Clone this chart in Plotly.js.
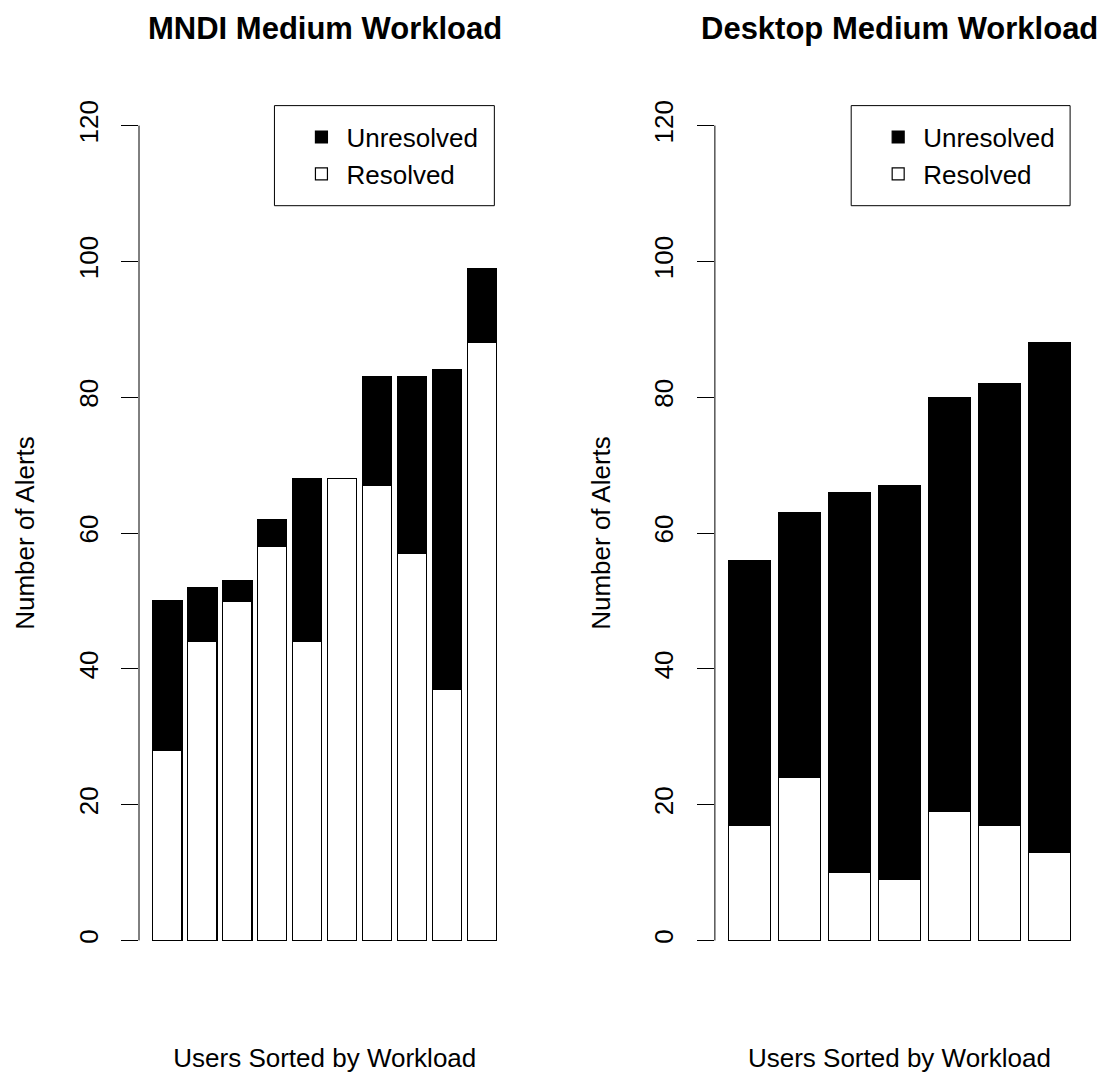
<!DOCTYPE html>
<html>
<head>
<meta charset="utf-8">
<script src="https://cdn.plot.ly/plotly-3.0.1.min.js"></script>
<style>html,body{margin:0;padding:0;background:#fff;}#chart{width:1114px;height:1076px;}</style>
</head>
<body>
<div id="chart"></div>
<script>
// ---- data ----
const usersMNDI = [1, 2, 3, 4, 5, 6, 7, 8, 9, 10];
const resolvedMNDI = [28, 44, 50, 58, 44, 68, 67, 57, 37, 88];
const unresolvedMNDI = [22, 8, 3, 4, 24, 0, 16, 26, 47, 11];

const usersDesktop = [1, 2, 3, 4, 5, 6, 7];
const resolvedDesktop = [17, 24, 10, 9, 19, 17, 13];
const unresolvedDesktop = [39, 39, 56, 58, 61, 65, 75];

const seriesNames = ["Resolved", "Unresolved"];
const panelTitles = ["MNDI Medium Workload", "Desktop Medium Workload"];
const xTitle = "Users Sorted by Workload";
const yTitle = "Number of Alerts";
const yTicks = [0, 20, 40, 60, 80, 100, 120];

const FONT = "Liberation Sans, Arial, Helvetica, sans-serif";
const lineStyle = {color: "#000", width: 1.2};

function bar(x, y, name, fill, xa, ya, leg) {
  return {
    type: "bar", x: x, y: y, name: name, xaxis: xa, yaxis: ya, legend: leg,
    marker: {color: fill, line: lineStyle}, hoverinfo: "x+y+name"
  };
}

const data = [
  bar(usersMNDI, resolvedMNDI, seriesNames[0], "#ffffff", "x", "y", "legend"),
  bar(usersMNDI, unresolvedMNDI, seriesNames[1], "#000000", "x", "y", "legend"),
  bar(usersDesktop, resolvedDesktop, seriesNames[0], "#ffffff", "x2", "y2", "legend2"),
  bar(usersDesktop, unresolvedDesktop, seriesNames[1], "#000000", "x2", "y2", "legend2")
];

function yAxis(anchor) {
  return {
    anchor: anchor, domain: [0, 1], range: [-4.8, 124.8],
    tickmode: "array", tickvals: yTicks, ticktext: yTicks.map(String),
    ticks: "outside", ticklen: 17, tickwidth: 1, tickcolor: "#000",
    tickangle: -90, ticklabelstandoff: 13,
    showline: false, showgrid: false, zeroline: false,
    tickfont: {family: FONT, size: 26, color: "#000"},
    title: {text: yTitle, font: {family: FONT, size: 26, color: "#000"}, standoff: 31},
    automargin: false, fixedrange: true
  };
}
function xAxis(anchor, domain, n) {
  // bar width is 1/1.2 of the pitch; axis extended by 4% of the bar extent on each side
  const half = 0.5 / 1.2;
  const ext = 0.04 * ((n - 1) + 2 * half);
  return {
    anchor: anchor, domain: domain, range: [1 - half - ext, n + half + ext],
    showticklabels: false, ticks: "", showline: false, showgrid: false, zeroline: false,
    title: {text: xTitle, font: {family: FONT, size: 26, color: "#000"}, standoff: 75},
    automargin: false, fixedrange: true
  };
}

function legendBox(xl) {
  return {
    x: xl, xanchor: "left", y: 0.97657, yanchor: "top",
    bgcolor: "rgba(0,0,0,0)", borderwidth: 0,
    font: {family: FONT, size: 26, color: "#000"},
    traceorder: "reversed", itemwidth: 40, tracegroupgap: 0
  };
}

const layout = {
  width: 1114, height: 1076,
  margin: {l: 138.5, r: 30.1, t: 93.4, b: 103.4},
  paper_bgcolor: "#fff", plot_bgcolor: "#fff",
  font: {family: FONT, size: 26, color: "#000"},
  barmode: "stack", bargap: 1 / 6,
  showlegend: true,
  legend: legendBox(0.1666),
  legend2: legendBox(0.7769),
  xaxis: xAxis("y", [0, 0.3932], usersMNDI.length),
  yaxis: yAxis("x"),
  xaxis2: xAxis("y2", [0.6094, 1], usersDesktop.length),
  yaxis2: yAxis("x2"),
  shapes: [
    {type: "line", xref: "x domain", yref: "y", x0: 0, x1: 0, y0: yTicks[0], y1: yTicks[yTicks.length - 1], line: {color: "#000", width: 1}},
    {type: "line", xref: "x2 domain", yref: "y2", x0: 0, x1: 0, y0: yTicks[0], y1: yTicks[yTicks.length - 1], line: {color: "#000", width: 1}},
    // legend frames
    {type: "rect", xref: "paper", yref: "paper", x0: 0.14333, x1: 0.37603, y0: 0.87193, y1: 0.98567, line: {color: "#000", width: 1}, fillcolor: "rgba(255,255,255,0)"},
    {type: "rect", xref: "paper", yref: "paper", x0: 0.75365, x1: 0.98530, y0: 0.87193, y1: 0.98567, line: {color: "#000", width: 1}, fillcolor: "rgba(255,255,255,0)"}
  ],
  annotations: panelTitles.map((t, i) => ({
    text: t, xref: i === 0 ? "x domain" : "x2 domain", yref: "paper",
    x: 0.5, y: 1.0732, xanchor: "center", yanchor: "middle", showarrow: false,
    font: {family: FONT, size: 31, color: "#000", weight: "bold"}
  }))
};

Plotly.newPlot("chart", data, layout, {displayModeBar: false, staticPlot: true});
</script>
</body>
</html>
